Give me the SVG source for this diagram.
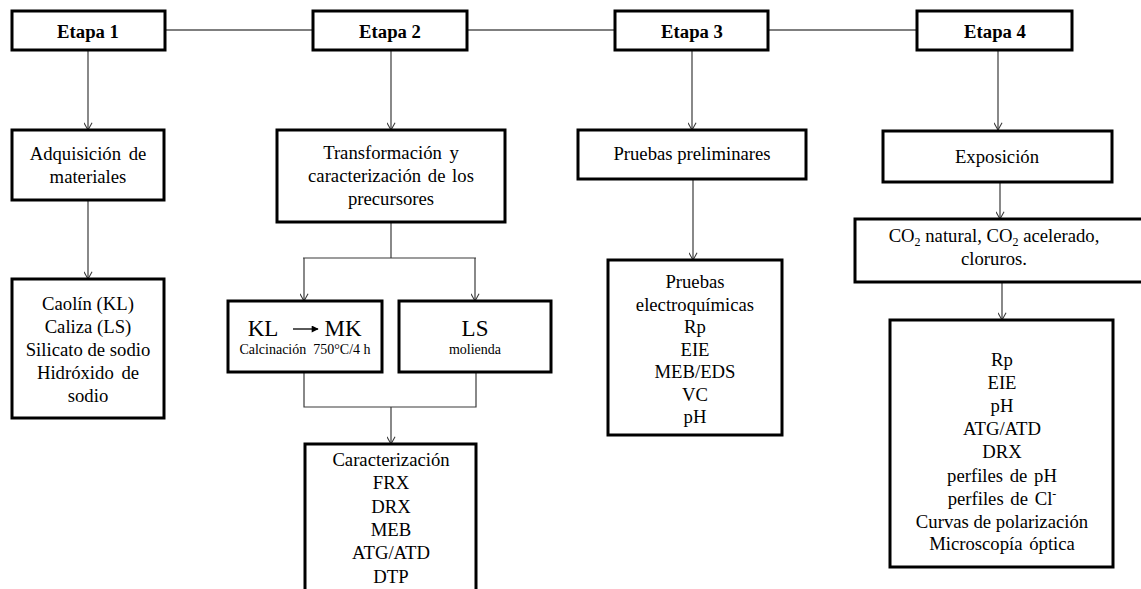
<svg xmlns="http://www.w3.org/2000/svg" width="1141" height="589" viewBox="0 0 1141 589">
<defs>
<style>
.box{fill:#fff;stroke:#000;stroke-width:3}
text{font-family:'Liberation Serif','Tinos','DejaVu Serif','Noto Serif',serif;font-size:18.7px;fill:#000;text-anchor:middle}
.b{font-weight:bold}
.s{font-size:14px}
.big{font-size:23px}
.c{fill:none;stroke:#3a3a3a;stroke-width:1.2}
.h{fill:none;stroke:#000;stroke-width:1.2}
</style>
<marker id="arr" viewBox="0 0 10 10" refX="9" refY="5" markerWidth="9" markerHeight="9" markerUnits="userSpaceOnUse" orient="auto">
<path d="M1,0.5 L9,5 L1,9.5" fill="none" stroke="#3a3a3a" stroke-width="1.2"/>
</marker>
<marker id="tri" viewBox="0 0 10 10" refX="9" refY="5" markerWidth="8" markerHeight="7" markerUnits="userSpaceOnUse" orient="auto">
<path d="M0,0 L10,5 L0,10 Z" fill="#000"/>
</marker>
</defs>

<g id="connectors">
<line class="h" x1="165" y1="30" x2="917" y2="30"/>
<line class="c" x1="88" y1="50" x2="88" y2="130" marker-end="url(#arr)"/>
<line class="c" x1="88" y1="200" x2="88" y2="279" marker-end="url(#arr)"/>
<line class="c" x1="391" y1="50" x2="391" y2="130" marker-end="url(#arr)"/>
<polyline class="c" points="391,222 391,258"/>
<line class="c" x1="303" y1="258" x2="476" y2="258"/>
<line class="c" x1="304" y1="258" x2="304" y2="301" marker-end="url(#arr)"/>
<line class="c" x1="475" y1="258" x2="475" y2="301" marker-end="url(#arr)"/>
<polyline class="c" points="304,372 304,407 476,407 476,372"/>
<line class="c" x1="391" y1="407" x2="391" y2="444" marker-end="url(#arr)"/>
<line class="c" x1="692" y1="50" x2="692" y2="130" marker-end="url(#arr)"/>
<line class="c" x1="693" y1="180" x2="693" y2="260" marker-end="url(#arr)"/>
<line class="c" x1="998" y1="50" x2="998" y2="130" marker-end="url(#arr)"/>
<line class="c" x1="1000" y1="182" x2="1000" y2="219" marker-end="url(#arr)"/>
<line class="c" x1="1002" y1="282" x2="1002" y2="320" marker-end="url(#arr)"/>
</g>

<g id="etapa1">
<rect class="box" x="12" y="11" width="153" height="39"/>
<text class="b" x="88" y="38">Etapa 1</text>
</g>
<g id="etapa2">
<rect class="box" x="313" y="11" width="154" height="39"/>
<text class="b" x="390" y="38">Etapa 2</text>
</g>
<g id="etapa3">
<rect class="box" x="615" y="11" width="153" height="39"/>
<text class="b" x="692" y="38">Etapa 3</text>
</g>
<g id="etapa4">
<rect class="box" x="917" y="11" width="155" height="39"/>
<text class="b" x="995" y="38">Etapa 4</text>
</g>

<g id="adquisicion">
<rect class="box" x="12" y="130" width="152" height="70"/>
<text x="88" y="160" word-spacing="3">Adquisición de</text>
<text x="88" y="183">materiales</text>
</g>
<g id="materiales">
<rect class="box" x="12" y="279" width="152" height="139"/>
<text x="88" y="310">Caolín (KL)</text>
<text x="88" y="333">Caliza (LS)</text>
<text x="88" y="356">Silicato de sodio</text>
<text x="88" y="379" word-spacing="3">Hidróxido de</text>
<text x="88" y="402">sodio</text>
</g>

<g id="transformacion">
<rect class="box" x="277" y="130" width="228" height="92"/>
<text x="391" y="159" word-spacing="3">Transformación y</text>
<text x="391" y="182" word-spacing="2">caracterización de los</text>
<text x="391" y="205">precursores</text>
</g>
<g id="kl">
<rect class="box" x="228" y="301" width="154" height="71"/>
<text class="big" x="263" y="336">KL</text>
<line x1="293" y1="329" x2="318" y2="329" stroke="#000" stroke-width="1.3" marker-end="url(#tri)"/>
<text class="big" x="343" y="336">MK</text>
<text class="s" x="305" y="354" xml:space="preserve">Calcinación  750°C/4 h</text>
</g>
<g id="ls">
<rect class="box" x="399" y="301" width="152" height="71"/>
<text class="big" x="475" y="336">LS</text>
<text class="s" x="475" y="354">molienda</text>
</g>
<g id="caracterizacion">
<rect class="box" x="305" y="444" width="171" height="150"/>
<text x="391" y="466">Caracterización</text>
<text x="391" y="489">FRX</text>
<text x="391" y="513">DRX</text>
<text x="391" y="536">MEB</text>
<text x="391" y="559">ATG/ATD</text>
<text x="391" y="583">DTP</text>
</g>

<g id="preliminares">
<rect class="box" x="578" y="130" width="228" height="49"/>
<text x="692" y="160">Pruebas preliminares</text>
</g>
<g id="pruebas">
<rect class="box" x="608" y="260" width="174" height="175"/>
<text x="695" y="288">Pruebas</text>
<text x="695" y="310.5">electroquímicas</text>
<text x="695" y="333">Rp</text>
<text x="695" y="355.5">EIE</text>
<text x="695" y="378">MEB/EDS</text>
<text x="695" y="400.5">VC</text>
<text x="695" y="423">pH</text>
</g>

<g id="exposicion">
<rect class="box" x="883" y="131" width="229" height="51"/>
<text x="997" y="163">Exposición</text>
</g>
<g id="condiciones">
<rect class="box" x="855" y="219" width="290" height="63"/>
<text x="994" y="242">CO<tspan font-size="12" dy="4">2</tspan><tspan dy="-4"> natural, CO</tspan><tspan font-size="12" dy="4">2</tspan><tspan dy="-4"> acelerado,</tspan></text>
<text x="994" y="265">cloruros.</text>
</g>
<g id="ensayos">
<rect class="box" x="890" y="320" width="223" height="247"/>
<text x="1002" y="366">Rp</text>
<text x="1002" y="389">EIE</text>
<text x="1002" y="412">pH</text>
<text x="1002" y="435">ATG/ATD</text>
<text x="1002" y="458">DRX</text>
<text x="1002" y="482" word-spacing="2">perfiles de pH</text>
<text x="1002" y="505" word-spacing="2">perfiles de Cl<tspan font-size="12" dy="-7">-</tspan></text>
<text x="1002" y="528">Curvas de polarización</text>
<text x="1002" y="550" word-spacing="2">Microscopía óptica</text>
</g>
</svg>
